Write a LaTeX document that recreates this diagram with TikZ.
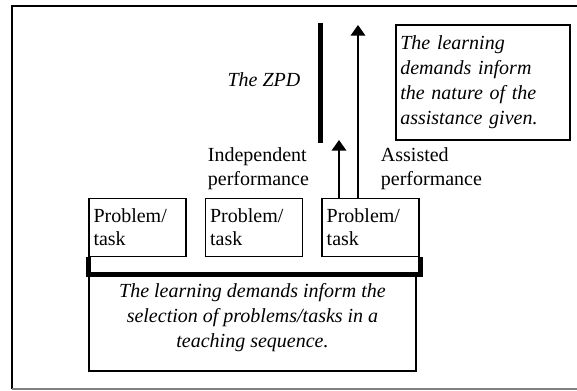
\documentclass[tikz,border=0pt]{standalone}
\usepackage{fontspec}
\setmainfont{Liberation Serif}
\usetikzlibrary{arrows.meta,positioning}

\begin{document}
\begin{tikzpicture}[x=0.75pt,y=-0.75pt]
\tikzstyle{taskbox}=[draw=black,line width=1.2pt,minimum width=72.75pt,minimum height=43.5pt,text width=66pt,align=left,inner sep=3pt,font=\fontsize{15}{17.25}\selectfont]
\tikzstyle{notebox}=[draw=black,line width=1.2pt,inner sep=3pt]
\tikzstyle{note}=[font=\fontsize{15}{18.75}\selectfont\itshape,inner sep=2pt]
\tikzstyle{plain}=[font=\fontsize{15}{18}\selectfont,align=left,inner sep=2pt,anchor=west]
\tikzstyle{arrow}=[line width=1.1pt,-{Triangle[width=11pt,length=8pt]}]
\useasboundingbox (0,0) rectangle (577,390);
% outer frame
\draw[line width=1.5pt] (577,6) -- (12,6) -- (12,389);
\draw[line width=1.5pt,gray] (12,389) -- (577,389);
% problems / tasks
\node [taskbox] at (137.5,227.5) (box1) {Problem/\\task};
\node [taskbox,right=13.5pt of box1] (box2) {Problem/\\task};
\node [taskbox,right=13.5pt of box2] (box3) {Problem/\\task};
\node [notebox,minimum width=245.25pt,minimum height=72pt] at (252.5,323) (demandsbox) {};
\node [note,align=center] at ([yshift=3.75pt]demandsbox.center) (demandstext)
  {The learning demands inform the\\selection of problems/tasks in a\\teaching sequence.};
\draw [line width=3.75pt] (box1.south west) |- (demandsbox.north) -| (box3.south east);
% ZPD and performance
\coordinate (zpdtop) at (320,23);
\coordinate (zpdbot) at (320,143);
\draw [line width=3.75pt] (zpdtop) -- (zpdbot);
\node [note] at (264,80) (zpd) {The ZPD};
\coordinate (indtip) at (339,140);
\coordinate (asstip) at (358,25);
\draw [arrow] (box3.north -| indtip) -- (indtip);
\draw [arrow] (box3.north -| asstip) -- (asstip);
\node [plain] at (205,169) (indlabel) {Independent\\performance};
\node [plain] at (378,169) (asslabel) {Assisted\\performance};
\node [notebox,note,minimum width=130.5pt,minimum height=86.25pt,text width=124pt,align=left,inner sep=3pt] at (483,82.5) (assistbox)
  {The learning\\demands inform\\the nature of the\\assistance given.};
\end{tikzpicture}
\end{document}
